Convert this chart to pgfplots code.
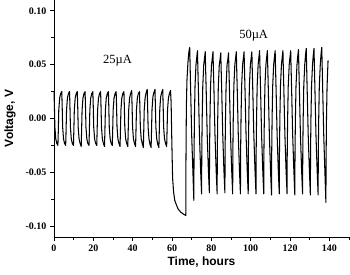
\documentclass[border=0pt]{standalone}
\usepackage{fontspec}
\setmainfont{Liberation Serif}
\setsansfont{Liberation Sans}
\usepackage{pgfplots}
\pgfplotsset{compat=1.18}
\begin{document}
\begin{tikzpicture}
\begin{axis}[
  scale only axis,
  width=295pt, height=237pt,
  xmin=0, xmax=150, ymin=-0.11, ymax=0.11,
  axis x line*=bottom, axis y line*=left,
  axis line style={line width=0.8pt},
  xtick={0,20,40,60,80,100,120,140},
  xticklabels={0,20,40,60,80,100,120,140},
  minor xtick={10,30,50,70,90,110,130,150},
  ytick={-0.10,-0.05,0,0.05,0.10},
  yticklabels={-0.10,-0.05,0.00,0.05,0.10},
  minor ytick={-0.075,-0.025,0.025,0.075},
  tick align=outside,
  major tick length=4pt, minor tick length=2.5pt,
  every tick/.style={black, line width=0.8pt},
  tick label style={font=\fontsize{10}{12}\selectfont\bfseries},
  xlabel={Time, hours}, ylabel={Voltage, V},
  label style={font=\fontsize{12}{14}\selectfont\sffamily\bfseries},
  xlabel style={at={(axis description cs:0.5,-0.105)}, anchor=center},
  ylabel style={at={(axis description cs:-0.149,0.5)}, anchor=center},
  clip=false,
]
\addplot[black, line width=1.05pt, line join=round] coordinates {
(0.00,0.025) (0.20,0.012) (0.45,-0.008) (0.90,-0.019) (1.40,-0.023) (1.98,-0.025) (2.18,-0.012) (2.43,0.008) (2.88,0.019) (3.38,0.023)
(3.95,0.025) (4.15,0.012) (4.40,-0.008) (4.85,-0.019) (5.35,-0.023) (5.93,-0.025) (6.13,-0.012) (6.38,0.008) (6.83,0.019) (7.33,0.023)
(7.90,0.025) (8.10,0.012) (8.35,-0.008) (8.80,-0.019) (9.30,-0.023) (9.88,-0.025) (10.08,-0.012) (10.33,0.008) (10.78,0.019) (11.28,0.023)
(11.85,0.025) (12.05,0.012) (12.30,-0.008) (12.75,-0.019) (13.25,-0.023) (13.83,-0.026) (14.03,-0.012) (14.28,0.008) (14.73,0.019) (15.23,0.023)
(15.80,0.025) (16.00,0.012) (16.25,-0.008) (16.70,-0.019) (17.20,-0.023) (17.78,-0.025) (17.98,-0.012) (18.23,0.008) (18.68,0.019) (19.18,0.023)
(19.75,0.025) (19.95,0.012) (20.20,-0.008) (20.65,-0.019) (21.15,-0.023) (21.73,-0.025) (21.93,-0.012) (22.18,0.008) (22.63,0.019) (23.13,0.023)
(23.70,0.025) (23.90,0.012) (24.15,-0.008) (24.60,-0.019) (25.10,-0.023) (25.68,-0.026) (25.88,-0.012) (26.13,0.008) (26.58,0.019) (27.08,0.023)
(27.65,0.025) (27.85,0.012) (28.10,-0.008) (28.55,-0.019) (29.05,-0.023) (29.63,-0.025) (29.83,-0.012) (30.08,0.008) (30.53,0.019) (31.03,0.023)
(31.60,0.025) (31.80,0.012) (32.05,-0.008) (32.50,-0.019) (33.00,-0.023) (33.58,-0.026) (33.78,-0.012) (34.03,0.008) (34.48,0.019) (34.98,0.023)
(35.55,0.025) (35.75,0.012) (36.00,-0.008) (36.45,-0.019) (36.95,-0.023) (37.53,-0.026) (37.73,-0.012) (37.98,0.008) (38.43,0.019) (38.93,0.023)
(39.50,0.026) (39.70,0.012) (39.95,-0.008) (40.40,-0.019) (40.90,-0.023) (41.48,-0.026) (41.68,-0.012) (41.93,0.008) (42.38,0.019) (42.88,0.023)
(43.45,0.025) (43.65,0.012) (43.90,-0.008) (44.35,-0.019) (44.85,-0.023) (45.43,-0.027) (45.63,-0.012) (45.88,0.008) (46.33,0.019) (46.83,0.024)
(47.40,0.027) (47.60,0.012) (47.85,-0.008) (48.30,-0.019) (48.80,-0.024) (49.38,-0.027) (49.58,-0.012) (49.83,0.008) (50.28,0.020) (50.78,0.024)
(51.35,0.027) (51.55,0.012) (51.80,-0.008) (52.25,-0.019) (52.75,-0.024) (53.33,-0.027) (53.53,-0.012) (53.78,0.008) (54.23,0.020) (54.73,0.024)
(55.30,0.027) (55.50,0.012) (55.75,-0.008) (56.20,-0.019) (56.70,-0.023) (57.28,-0.026) (57.48,-0.012) (57.73,0.008) (58.18,0.019) (58.68,0.023)
(59.25,0.026) (59.55,0.015) (59.90,-0.020) (60.30,-0.055) (60.80,-0.068) (61.40,-0.076) (62.20,-0.080) (63.10,-0.084) (64.50,-0.087) (66.00,-0.089) (67.00,-0.090)
(67.10,-0.040) (67.30,0.010) (67.60,0.035) (68.10,0.052) (68.60,0.062)
(69.00,0.066) (69.15,0.054) (69.50,0.025) (70.00,-0.015) (70.60,-0.048) (71.10,-0.076) (71.20,-0.036) (71.40,0.0) (71.70,0.030) (72.20,0.050) (72.60,0.057)
(72.95,0.063) (73.10,0.051) (73.45,0.025) (73.95,-0.015) (74.55,-0.048) (75.05,-0.070) (75.15,-0.030) (75.35,0.0) (75.65,0.030) (76.15,0.050) (76.55,0.056)
(76.90,0.062) (77.05,0.050) (77.40,0.025) (77.90,-0.015) (78.50,-0.048) (79.00,-0.069) (79.10,-0.029) (79.30,0.0) (79.60,0.030) (80.10,0.050) (80.50,0.056)
(80.85,0.062) (81.00,0.050) (81.35,0.025) (81.85,-0.015) (82.45,-0.048) (82.95,-0.070) (83.05,-0.030) (83.25,0.0) (83.55,0.030) (84.05,0.050) (84.45,0.055)
(84.80,0.061) (84.95,0.049) (85.30,0.025) (85.80,-0.015) (86.40,-0.048) (86.90,-0.069) (87.00,-0.029) (87.20,0.0) (87.50,0.030) (88.00,0.050) (88.40,0.055)
(88.75,0.061) (88.90,0.049) (89.25,0.025) (89.75,-0.015) (90.35,-0.048) (90.85,-0.070) (90.95,-0.030) (91.15,0.0) (91.45,0.030) (91.95,0.050) (92.35,0.056)
(92.70,0.062) (92.85,0.050) (93.20,0.025) (93.70,-0.015) (94.30,-0.048) (94.80,-0.070) (94.90,-0.030) (95.10,0.0) (95.40,0.030) (95.90,0.050) (96.30,0.056)
(96.65,0.062) (96.80,0.050) (97.15,0.025) (97.65,-0.015) (98.25,-0.048) (98.75,-0.070) (98.85,-0.030) (99.05,0.0) (99.35,0.030) (99.85,0.050) (100.25,0.056)
(100.60,0.062) (100.75,0.050) (101.10,0.025) (101.60,-0.015) (102.20,-0.048) (102.70,-0.070) (102.80,-0.030) (103.00,0.0) (103.30,0.030) (103.80,0.050) (104.20,0.057)
(104.55,0.063) (104.70,0.051) (105.05,0.025) (105.55,-0.015) (106.15,-0.048) (106.65,-0.070) (106.75,-0.030) (106.95,0.0) (107.25,0.030) (107.75,0.050) (108.15,0.057)
(108.50,0.063) (108.65,0.051) (109.00,0.025) (109.50,-0.015) (110.10,-0.048) (110.60,-0.071) (110.70,-0.031) (110.90,0.0) (111.20,0.030) (111.70,0.050) (112.10,0.057)
(112.45,0.063) (112.60,0.051) (112.95,0.025) (113.45,-0.015) (114.05,-0.048) (114.55,-0.070) (114.65,-0.030) (114.85,0.0) (115.15,0.030) (115.65,0.050) (116.05,0.057)
(116.40,0.063) (116.55,0.051) (116.90,0.025) (117.40,-0.015) (118.00,-0.048) (118.50,-0.070) (118.60,-0.030) (118.80,0.0) (119.10,0.030) (119.60,0.050) (120.00,0.057)
(120.35,0.063) (120.50,0.051) (120.85,0.025) (121.35,-0.015) (121.95,-0.048) (122.45,-0.071) (122.55,-0.031) (122.75,0.0) (123.05,0.030) (123.55,0.050) (123.95,0.058)
(124.30,0.064) (124.45,0.052) (124.80,0.025) (125.30,-0.015) (125.90,-0.048) (126.40,-0.070) (126.50,-0.030) (126.70,0.0) (127.00,0.030) (127.50,0.050) (127.90,0.059)
(128.25,0.065) (128.40,0.053) (128.75,0.025) (129.25,-0.015) (129.85,-0.048) (130.35,-0.071) (130.45,-0.031) (130.65,0.0) (130.95,0.030) (131.45,0.050) (131.85,0.059)
(132.20,0.065) (132.35,0.053) (132.70,0.025) (133.20,-0.015) (133.80,-0.048) (134.30,-0.071) (134.40,-0.031) (134.60,0.0) (134.90,0.030) (135.40,0.050) (135.80,0.060)
(136.15,0.066) (136.30,0.054) (136.65,0.025) (137.15,-0.015) (137.75,-0.050) (138.25,-0.078) (138.35,-0.038) (138.55,0.0) (138.85,0.030) (139.35,0.054)
};
\node[font=\fontsize{12.5}{14}\selectfont] at (axis cs:32.3,0.054) {25µA};
\node[font=\fontsize{12.5}{14}\selectfont] at (axis cs:101.5,0.077) {50µA};
\end{axis}
\pgfresetboundingbox
\path[use as bounding box] (current axis.south west) ++(-54pt,-38pt) rectangle ([xshift=1pt]current axis.north east);
\end{tikzpicture}
\end{document}
